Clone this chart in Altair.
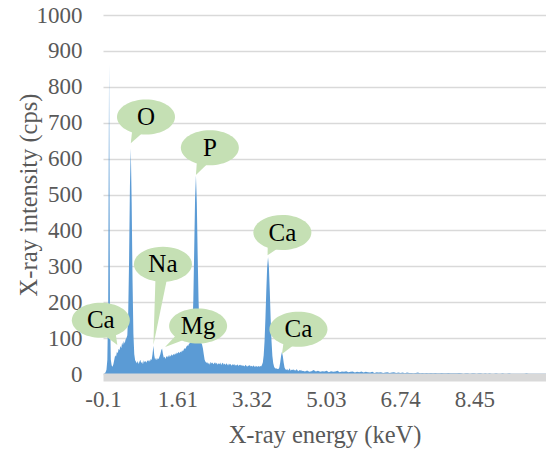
import math
import altair as alt
import pandas as pd

# ---------------- data ----------------
# X-ray intensity (cps); fine grid: -0.10 keV to 4.48 keV every 0.02 keV
fine_counts = [
    0, 0, 2, 5, 12, 40, 200, 863, 180, 40,          # -0.10 .. 0.08
    24, 20, 28, 40, 52, 48, 62, 58, 70, 66,         # 0.10 .. 0.28
    78, 72, 88, 80, 92, 85, 96, 100, 108, 165,      # 0.30 .. 0.48
    312, 522, 628, 480, 262, 112, 55, 38, 34, 30,   # 0.50 .. 0.68
    36, 28, 34, 40, 30, 35, 27, 38, 33, 36,         # 0.70 .. 0.88
    31, 38, 35, 40, 34, 42, 39, 55, 79, 52,         # 0.90 .. 1.08
    40, 45, 38, 44, 42, 48, 55, 66, 71, 56,         # 1.10 .. 1.28
    45, 48, 42, 50, 46, 52, 47, 53, 49, 55,         # 1.30 .. 1.48
    51, 56, 53, 58, 54, 60, 57, 62, 58, 63,         # 1.50 .. 1.68
    60, 66, 63, 68, 72, 70, 76, 80, 78, 84,         # 1.70 .. 1.88
    86, 90, 96, 128, 208, 345, 488, 553, 478, 330,  # 1.90 .. 2.08
    205, 130, 100, 88, 82, 72, 55, 40, 34, 31,      # 2.10 .. 2.28
    33, 28, 31, 26, 34, 29, 32, 27, 30, 33,         # 2.30 .. 2.48
    28, 31, 26, 30, 27, 32, 25, 29, 31, 26,         # 2.50 .. 2.68
    29, 25, 30, 27, 24, 29, 26, 28, 23, 27,         # 2.70 .. 2.88
    25, 28, 23, 26, 24, 27, 22, 25, 26, 23,         # 2.90 .. 3.08
    25, 22, 24, 21, 26, 23, 20, 24, 22, 25,         # 3.10 .. 3.28
    21, 23, 20, 24, 22, 19, 23, 21, 20, 22,         # 3.30 .. 3.48
    20, 22, 21, 25, 32, 52, 92, 155, 232, 298,      # 3.50 .. 3.68
    325, 298, 232, 155, 92, 50, 30, 20, 16, 15,     # 3.70 .. 3.88
    15, 14, 14, 18, 32, 50, 61, 50, 32, 18,         # 3.90 .. 4.08
    13, 11, 14, 10, 12, 16, 9, 12, 11, 13,          # 4.10 .. 4.28
    10, 12, 9, 14, 10, 8, 11, 9, 12, 8,             # 4.30 .. 4.48
]
# coarse grid: 4.50 keV to 10.10 keV every 0.05 keV
coarse_counts = [
    9, 7, 10, 6, 8, 11, 7, 9, 6, 8,
    7, 9, 5, 8, 6, 7, 9, 5, 7, 6,
    8, 5, 6, 7, 4, 6, 5, 7, 4, 6,
    5, 4, 6, 3, 5, 4, 5, 3, 4, 5,
    3, 4, 5, 3, 4, 3, 4, 2, 4, 3,
    3, 2, 3, 4, 2, 3, 2, 3, 2, 3,
    2, 3, 2, 2, 3, 2, 2, 3, 2, 2,
    2, 2, 3, 2, 1, 2, 2, 1, 2, 2,
    1, 2, 2, 1, 2, 1, 2, 1, 1, 2,
    1, 1, 2, 1, 1, 2, 1, 1, 1, 1,
    1, 1, 1, 2, 1, 1, 1, 1, 1, 1,
    1, 1, 1,
]
fine_energy = [round(-0.10 + 0.02 * i, 2) for i in range(len(fine_counts))]
coarse_energy = [round(4.50 + 0.05 * i, 2) for i in range(len(coarse_counts))]

x_tick_values = [-0.1, 1.61, 3.32, 5.03, 6.74, 8.45]
y_tick_values = [0, 100, 200, 300, 400, 500, 600, 700, 800, 900, 1000]

# callouts: element label, bubble centre (keV, cps), tail tip (keV, cps)
call_labels = ["Ca", "O", "Na", "Mg", "P", "Ca", "Ca"]
call_x = [-0.15, 0.89, 1.28, 2.09, 2.36, 4.03, 4.40]
call_y = [150, 716, 306, 134, 630, 394, 125]
tip_x = [0.23, 0.54, 1.06, 1.33, 2.04, 3.69, 4.02]
tip_y = [81, 643, 81, 75, 554, 331, 56]

# ---------------- layout / style ----------------
X_MIN, X_MAX = -0.1, 10.1
Y_MIN, Y_MAX = 0, 1000
W, H = 443, 359
SERIF = "Liberation Serif, Times New Roman, serif"
GREY = "#595959"
BLUE = "#5b9bd5"
GREEN = "#c5e0b4"
RX, RY = 29.0, 17.5   # bubble radii in px

kx = W / (X_MAX - X_MIN)
ky = H / (Y_MAX - Y_MIN)

k = 0.5523
ellipse_path = (
    f"M {-RX} 0 C {-RX} {-k*RY} {-k*RX} {-RY} 0 {-RY} "
    f"C {k*RX} {-RY} {RX} {-k*RY} {RX} 0 "
    f"C {RX} {k*RY} {k*RX} {RY} 0 {RY} "
    f"C {-k*RX} {RY} {-RX} {k*RY} {-RX} 0 Z"
)


def tail_path(cx, cy, tx, ty):
    dx = (tx - cx) * kx
    dy = -(ty - cy) * ky
    phi = math.atan2(dy / RY, dx / RX)
    d, r = 0.22, 0.9
    b1 = (RX * r * math.cos(phi - d), RY * r * math.sin(phi - d))
    b2 = (RX * r * math.cos(phi + d), RY * r * math.sin(phi + d))
    return (f"M {b1[0]:.2f} {b1[1]:.2f} L {dx:.2f} {dy:.2f} "
            f"L {b2[0]:.2f} {b2[1]:.2f} Z")


spec_df = pd.DataFrame({"energy": fine_energy + coarse_energy,
                        "counts": fine_counts + coarse_counts})

call_df = pd.DataFrame({
    "label": call_labels,
    "energy": call_x,
    "counts": call_y,
    "tail": [tail_path(a, b, c, d) for a, b, c, d in zip(call_x, call_y, tip_x, tip_y)],
    "ell": [ellipse_path] * len(call_labels),
})

x_enc = alt.X(
    "energy:Q",
    scale=alt.Scale(domain=[X_MIN, X_MAX], nice=False, zero=False),
    axis=alt.Axis(
        values=x_tick_values,
        labelExpr="'' + datum.value",
        title="X-ray energy (keV)",
        grid=False,
        ticks=False,
        domainColor="#d9d9d9",
        domainWidth=8,
        offset=3,
        labelFont=SERIF,
        labelFontSize=23,
        labelColor=GREY,
        labelPadding=11,
        labelFlush=False,
        titleFont=SERIF,
        titleFontSize=24.5,
        titleFontWeight="normal",
        titleColor=GREY,
        titlePadding=12,
        zindex=1,
    ),
)
y_enc = alt.Y(
    "counts:Q",
    scale=alt.Scale(domain=[Y_MIN, Y_MAX], nice=False),
    axis=alt.Axis(
        values=y_tick_values,
        format="d",
        title="X-ray intensity (cps)",
        grid=True,
        gridColor="#d9d9d9",
        gridWidth=1.3,
        domain=False,
        ticks=False,
        labelFont=SERIF,
        labelFontSize=23,
        labelColor=GREY,
        labelPadding=21,
        titleFont=SERIF,
        titleFontSize=24.5,
        titleFontWeight="normal",
        titleColor=GREY,
        titlePadding=-5,
    ),
)

area = alt.Chart(spec_df).mark_area(color=BLUE, interpolate="linear", opacity=1).encode(
    x=x_enc, y=y_enc
)

tails = alt.Chart(call_df).mark_point(
    filled=True, color=GREEN, opacity=1, strokeWidth=0
).encode(
    x=x_enc, y=y_enc,
    shape=alt.Shape("tail:N", scale=None, legend=None),
    size=alt.value(4),
)

bubbles = alt.Chart(call_df).mark_point(
    filled=True, color=GREEN, opacity=1, strokeWidth=0
).encode(
    x=x_enc, y=y_enc,
    shape=alt.Shape("ell:N", scale=None, legend=None),
    size=alt.value(4),
)

texts = alt.Chart(call_df).mark_text(
    font=SERIF, fontSize=25, color="#000000", baseline="middle", align="center"
).encode(x=x_enc, y=y_enc, text="label:N")

chart = alt.layer(area, tails, bubbles, texts).properties(
    width=W,
    height=H,
    padding={"left": 103, "top": 15, "right": 0, "bottom": 76},
    autosize=alt.AutoSizeParams(type="none"),
    background="white",
).configure_view(stroke=None)

chart.save("out.html", embed_options={"renderer": "svg", "actions": False})
